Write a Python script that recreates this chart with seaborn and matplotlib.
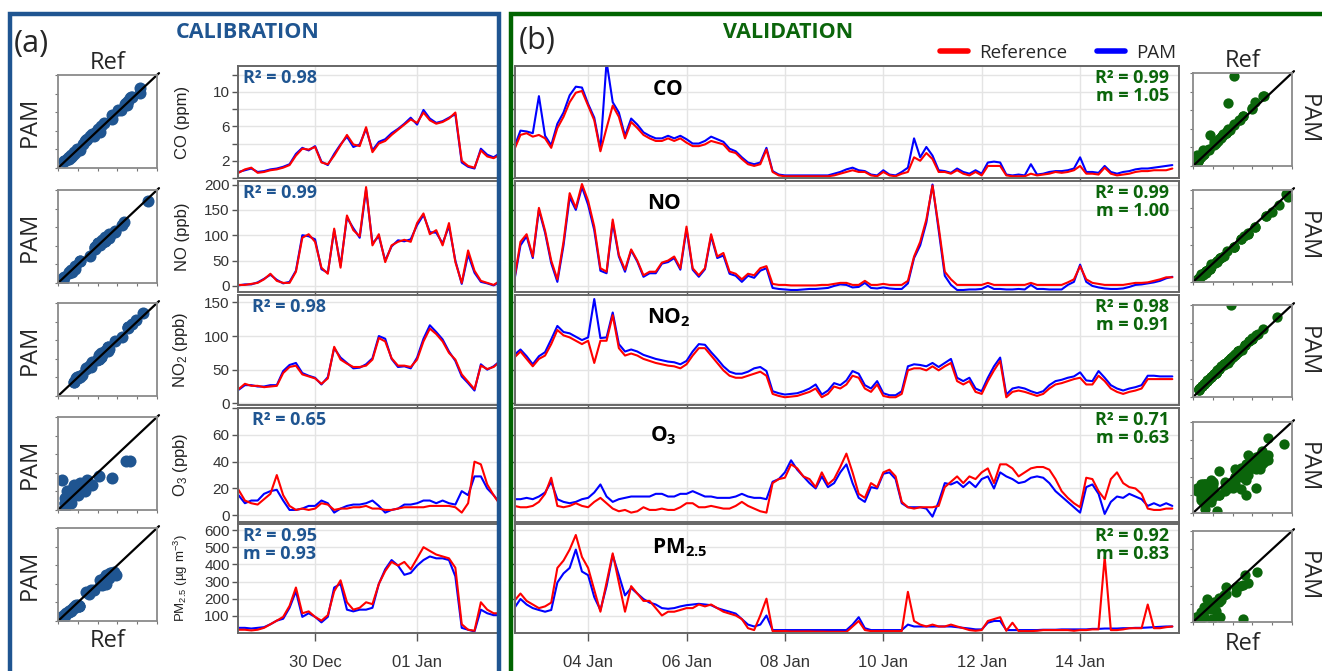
import numpy as np
import pandas as pd
import seaborn as sns
import matplotlib.pyplot as plt
from matplotlib.patches import Rectangle
from matplotlib.lines import Line2D

sns.set_theme(style="white")
plt.rcParams['font.family'] = ['Liberation Sans', 'DejaVu Sans']
plt.rcParams['mathtext.fontset'] = 'custom'
plt.rcParams['mathtext.rm'] = 'Liberation Sans'
plt.rcParams['mathtext.it'] = 'Liberation Sans:italic'
plt.rcParams['mathtext.bf'] = 'Open Sans:bold'

BLUE = '#1F5591'
GREEN = '#0B650B'

# ---------------- data (3 h steps) ----------------
cal_time = pd.date_range('2017-12-28 12:00', periods=42, freq='3h')
val_time = pd.date_range('2018-01-02 12:00', periods=108, freq='3h')

cal_co_ref = [0.6, 1.0, 1.2, 0.6, 0.7, 0.9, 1.0, 1.2, 1.5, 2.6, 3.4, 3.3, 3.6, 1.8, 1.6, 2.6, 3.8, 5.0, 3.9, 3.7, 5.9,
              3.0, 4.0, 4.3, 5.0, 5.6, 6.2, 6.8, 6.4, 7.6, 6.7, 6.3, 6.5, 6.9, 7.6, 2.0, 1.4, 1.2, 3.2, 2.5, 2.3, 2.7]
cal_co_pam = [0.7, 0.9, 1.1, 0.7, 0.8, 1.0, 1.1, 1.3, 1.6, 2.8, 3.5, 3.2, 3.7, 1.9, 1.5, 2.8, 3.9, 4.8, 3.6, 3.9, 5.7,
              3.2, 4.2, 4.5, 5.2, 5.7, 6.3, 7.0, 6.2, 7.9, 6.9, 6.4, 6.6, 7.0, 7.4, 1.8, 1.3, 1.1, 3.4, 2.7, 2.4, 2.9]
cal_no_ref = [2, 2, 4, 6, 13, 24, 10, 6, 6, 28, 95, 102, 87, 36, 24, 113, 36, 139, 110, 98, 195,
              80, 102, 47, 80, 87, 91, 87, 124, 143, 102, 110, 80, 124, 47, 6, 70, 30, 10, 6, 2, 10]
cal_no_pam = [1, 3, 3, 7, 14, 22, 12, 5, 8, 30, 100, 98, 92, 33, 26, 110, 40, 135, 114, 95, 190,
              84, 98, 50, 78, 90, 88, 92, 120, 140, 106, 105, 84, 118, 50, 4, 62, 26, 8, 5, 1, 8]
cal_no2_ref = [21, 29, 26, 26, 24, 25, 26, 45, 54, 56, 43, 40, 37, 29, 37, 84, 65, 59, 54, 54, 56,
               65, 97, 92, 67, 56, 56, 54, 65, 92, 111, 103, 92, 75, 65, 43, 32, 21, 56, 51, 54, 62]
cal_no2_pam = [20, 27, 27, 25, 25, 27, 27, 48, 57, 60, 45, 41, 38, 28, 39, 82, 68, 60, 52, 53, 58,
               67, 100, 96, 66, 54, 55, 52, 68, 96, 116, 106, 95, 77, 63, 40, 30, 19, 58, 50, 55, 63]
cal_o3_ref = [19, 11, 9, 8, 12, 16, 30, 15, 7, 4, 5, 4, 5, 9, 8, 4, 5, 5, 6, 6, 7,
              5, 5, 4, 4, 5, 6, 6, 6, 6, 7, 7, 7, 7, 6, 2, 9, 40, 38, 23, 15, 8]
cal_o3_pam = [15, 9, 11, 11, 16, 18, 19, 11, 4, 4, 5, 7, 7, 11, 9, 2, 5, 7, 8, 8, 9,
              11, 7, 2, 4, 5, 8, 8, 9, 11, 11, 9, 11, 9, 8, 18, 15, 29, 29, 20, 15, 9]
cal_pm_ref = [19, 19, 15, 19, 30, 51, 72, 94, 158, 265, 115, 126, 94, 72, 104, 243, 307, 179, 136, 147, 179,
              168, 286, 361, 414, 393, 414, 371, 435, 500, 478, 457, 446, 435, 380, 51, 19, 13, 179, 136, 115, 115]
cal_pm_pam = [30, 30, 26, 30, 34, 51, 72, 83, 147, 243, 94, 115, 94, 62, 94, 265, 286, 136, 126, 136, 136,
              147, 286, 371, 425, 393, 339, 350, 393, 425, 446, 435, 435, 425, 330, 30, 19, 9, 136, 115, 104, 104]

val_co_ref = [3.3, 5.0, 5.2, 4.8, 5.0, 4.6, 3.5, 5.8, 7.1, 8.8, 9.9, 10.1, 8.4, 6.7, 3.1, 5.8, 8.4, 7.1, 4.6, 6.5,
              5.8, 5.0, 4.6, 4.3, 4.3, 4.6, 4.3, 4.6, 4.1, 3.7, 3.7, 3.9, 4.3, 4.1, 3.9, 3.1, 2.9, 2.2, 1.6, 1.4,
              1.6, 3.3, 0.7, 0.3, 0.2, 0.2, 0.2, 0.2, 0.2, 0.2, 0.2, 0.2, 0.3, 0.5, 0.7, 0.9, 0.7, 0.7, 0.3, 0.2,
              0.7, 0.3, 0.2, 0.5, 0.7, 2.4, 2.0, 2.9, 2.2, 0.7, 0.7, 0.5, 0.9, 0.5, 0.3, 0.7, 0.3, 1.4, 1.4, 1.4,
              0.3, 0.2, 0.2, 0.2, 0.5, 0.3, 0.4, 0.5, 0.7, 0.6, 0.7, 0.9, 1.4, 0.5, 0.5, 0.4, 1.2, 0.5, 0.3, 0.4,
              0.5, 0.7, 0.8, 0.8, 0.9, 0.9, 0.9, 1.1]
val_co_pam = [3.6, 5.5, 5.4, 5.2, 9.5, 4.9, 3.8, 6.3, 7.6, 9.6, 10.6, 10.5, 8.6, 7.0, 3.3, 13.5, 8.8, 7.6, 4.9, 6.9,
              6.2, 5.3, 4.9, 4.6, 4.6, 4.9, 4.6, 4.9, 4.5, 4.0, 4.0, 4.3, 4.8, 4.5, 4.2, 3.4, 3.1, 2.4, 1.8, 1.6,
              1.8, 3.5, 0.8, 0.4, 0.3, 0.3, 0.3, 0.3, 0.3, 0.3, 0.3, 0.3, 0.5, 0.7, 1.0, 1.2, 0.9, 0.8, 0.4, 0.3,
              0.9, 0.4, 0.3, 0.7, 1.2, 4.6, 2.4, 3.6, 2.6, 0.9, 0.8, 0.6, 1.1, 0.7, 0.5, 0.9, 0.5, 1.8, 1.9, 1.8,
              0.4, 0.3, 0.4, 0.3, 1.6, 0.4, 0.5, 0.7, 0.8, 0.8, 0.9, 1.1, 2.4, 0.7, 0.7, 0.6, 1.4, 0.7, 0.5, 0.7,
              0.8, 1.0, 1.1, 1.1, 1.2, 1.3, 1.4, 1.5]
val_no_ref = [13, 87, 102, 58, 154, 109, 50, 13, 87, 183, 154, 201, 168, 117, 35, 28, 131, 61, 32, 72,
              50, 21, 28, 28, 46, 50, 58, 35, 117, 35, 21, 35, 102, 58, 65, 28, 24, 13, 24, 21,
              35, 39, 4, 2, 2, 1, 1, 1, 1, 1, 2, 2, 4, 6, 6, 2, 2, 10, 2, 2,
              4, 2, 2, 2, 10, 58, 87, 131, 198, 117, 28, 13, 2, 2, 2, 2, 2, 6, 2, 2,
              2, 2, 2, 2, 6, 2, 2, 2, 2, 2, 7, 13, 39, 13, 6, 4, 2, 2, 2, 2,
              4, 6, 6, 7, 10, 13, 17, 17]
val_no_pam = [10, 80, 98, 55, 150, 105, 45, 8, 80, 175, 150, 195, 160, 110, 30, 25, 125, 58, 28, 70,
              48, 18, 25, 25, 44, 47, 55, 32, 112, 32, 18, 33, 98, 55, 60, 24, 20, 8, 20, 16,
              30, 35, -4, -6, -7, -8, -8, -7, -6, -6, -5, -4, 0, 3, 2, -3, -2, 6, -4, -5,
              -3, -5, -6, -6, 5, 55, 80, 125, 200, 110, 20, 2, -8, -8, -7, -7, -6, 0, -6, -6,
              -7, -7, -6, -7, 2, -6, -6, -7, -7, -7, 2, 8, 42, 8, 0, -3, -5, -6, -6, -5,
              -2, 2, 3, 5, 7, 10, 15, 18]
val_no2_ref = [68, 77, 66, 55, 66, 71, 88, 109, 101, 98, 93, 88, 93, 60, 93, 93, 131, 82, 71, 74,
               71, 66, 63, 60, 58, 56, 55, 52, 58, 71, 82, 82, 71, 60, 49, 41, 38, 38, 41, 44,
               47, 41, 14, 11, 9, 10, 11, 14, 17, 22, 9, 14, 25, 22, 28, 41, 38, 22, 17, 28,
               11, 9, 9, 14, 49, 52, 52, 49, 55, 49, 55, 60, 33, 28, 33, 17, 14, 33, 49, 63,
               9, 17, 19, 17, 14, 11, 14, 22, 28, 30, 33, 36, 38, 28, 28, 41, 33, 22, 17, 14,
               17, 19, 22, 36, 36, 36, 36, 36]
val_no2_pam = [72, 80, 70, 58, 70, 76, 95, 115, 106, 104, 99, 94, 98, 155, 97, 98, 135, 88, 77, 80,
               77, 72, 69, 66, 64, 62, 61, 58, 63, 77, 88, 87, 76, 66, 55, 47, 44, 44, 47, 52,
               54, 48, 18, 15, 13, 14, 15, 18, 22, 28, 13, 19, 30, 27, 34, 48, 44, 27, 22, 33,
               15, 12, 12, 18, 55, 58, 57, 55, 60, 54, 60, 66, 38, 33, 38, 22, 18, 38, 55, 68,
               13, 22, 24, 22, 18, 15, 18, 27, 33, 35, 38, 40, 46, 34, 33, 48, 38, 27, 22, 19,
               22, 24, 27, 41, 41, 40, 40, 40]
val_o3_ref = [7, 6, 6, 7, 10, 16, 28, 7, 6, 7, 9, 7, 6, 10, 13, 9, 5, 3, 4, 2,
              3, 6, 4, 4, 5, 4, 4, 6, 9, 9, 6, 6, 7, 6, 5, 5, 7, 10, 7, 5,
              3, 2, 24, 27, 28, 38, 35, 29, 27, 21, 32, 23, 27, 36, 46, 32, 16, 13, 24, 21,
              32, 34, 29, 10, 6, 5, 6, 6, 6, 7, 21, 25, 29, 24, 29, 27, 32, 35, 24, 38,
              38, 35, 29, 32, 35, 36, 36, 34, 27, 18, 13, 9, 6, 28, 27, 18, 12, 27, 32, 24,
              21, 20, 16, 5, 4, 4, 5, 5]
val_o3_pam = [12, 12, 13, 12, 14, 17, 25, 12, 10, 9, 10, 12, 13, 17, 23, 14, 10, 12, 13, 14,
              14, 14, 14, 16, 16, 14, 14, 16, 16, 18, 16, 14, 14, 13, 13, 13, 14, 16, 14, 13,
              13, 12, 25, 27, 32, 41, 34, 29, 24, 20, 29, 21, 24, 32, 38, 24, 13, 10, 21, 20,
              31, 32, 27, 9, 6, 6, 6, 5, -1, 10, 24, 23, 25, 21, 25, 21, 27, 29, 20, 32,
              29, 27, 24, 25, 28, 29, 28, 24, 18, 14, 10, 6, 2, 21, 23, 16, 1, 10, 14, 13,
              16, 14, 12, 7, 9, 7, 9, 7]
val_pm_ref = [187, 230, 187, 166, 145, 155, 177, 379, 422, 486, 571, 443, 379, 251, 124, 294, 464, 294, 124, 273,
              230, 187, 187, 145, 102, 124, 124, 134, 145, 145, 166, 155, 166, 145, 124, 113, 102, 81, 28, 17,
              102, 200, 11, 11, 11, 9, 9, 9, 9, 8, 8, 7, 7, 7, 6, 38, 70, 17, 11, 11,
              11, 11, 11, 11, 240, 70, 49, 38, 49, 38, 38, 49, 38, 28, 17, 13, 17, 70, 81, 92,
              13, 60, 11, 11, 11, 13, 17, 17, 17, 17, 17, 13, 17, 17, 21, 21, 443, 17, 17, 21,
              28, 28, 28, 166, 28, 28, 34, 38]
val_pm_pam = [145, 198, 166, 145, 134, 124, 134, 294, 347, 379, 486, 358, 337, 209, 134, 273, 454, 337, 219, 262,
              230, 198, 177, 166, 145, 141, 145, 155, 162, 166, 170, 166, 162, 145, 134, 124, 113, 81, 49, 38,
              49, 102, 17, 17, 17, 17, 17, 17, 17, 17, 17, 17, 17, 17, 17, 49, 92, 28, 17, 17,
              17, 17, 17, 17, 49, 38, 38, 38, 38, 38, 38, 38, 34, 30, 26, 21, 21, 60, 70, 70,
              17, 17, 17, 17, 17, 17, 19, 19, 19, 21, 21, 21, 21, 21, 24, 24, 26, 26, 26, 28,
              28, 30, 30, 32, 34, 36, 38, 38]

cal_r2 = ['R² = 0.98', 'R² = 0.99', 'R² = 0.98', 'R² = 0.65', 'R² = 0.95\nm = 0.93']
val_r2 = ['R² = 0.99\nm = 1.05', 'R² = 0.99\nm = 1.00', 'R² = 0.98\nm = 0.91',
          'R² = 0.71\nm = 0.63', 'R² = 0.92\nm = 0.83']
species = [r'$\mathbf{CO}$', r'$\mathbf{NO}$', r'$\mathbf{NO_2}$', r'$\mathbf{O_3}$', r'$\mathbf{PM_{2.5}}$']
ylabels = ['CO (ppm)', 'NO (ppb)', 'NO$_2$ (ppb)', 'O$_3$ (ppb)', 'PM$_{2.5}$ (µg m$^{-3}$)']

cal_ref = [cal_co_ref, cal_no_ref, cal_no2_ref, cal_o3_ref, cal_pm_ref]
cal_pam = [cal_co_pam, cal_no_pam, cal_no2_pam, cal_o3_pam, cal_pm_pam]
val_ref = [val_co_ref, val_no_ref, val_no2_ref, val_o3_ref, val_pm_ref]
val_pam = [val_co_pam, val_no_pam, val_no2_pam, val_o3_pam, val_pm_pam]

ylims = [(0, 13), (-12, 207), (-2.5, 161), (-5, 80), (0, 635)]
yticks = [list(range(0, 13, 2)), [0, 50, 100, 150, 200], [0, 50, 100, 150],
          [0, 20, 40, 60, 80], [100, 200, 300, 400, 500, 600]]
ytlabels = [['', '2', '', '6', '', '10', ''], ['0', '50', '100', '150', '200'],
            ['0', '50', '100', '150'], ['0', '20', '40', '60', ''],
            ['100', '200', '300', '400', '500', '600']]
cal_lim = [9.2, 215, 130, 55, 850]
val_lim = [14, 210, 155, 50, 880]

# ---------------- layout ----------------
W, H = 1322, 671
fig = plt.figure(figsize=(W / 100, H / 100), dpi=100)


def box(l, t, r, b):
    return [l / W, 1 - b / H, (r - l) / W, (b - t) / H]


rows = [(66, 178), (181, 292), (295, 405), (408, 522), (524, 633)]
lsc_rows = [(75, 168), (190, 283), (303, 396), (417, 510), (528, 621)]
rsc_rows = [(73, 166), (190, 282), (305, 397), (422, 513), (531, 622)]
sp_pos = [(0.23, 0.79), (0.225, 0.80), (0.232, 0.79), (0.223, 0.76), (0.248, 0.78)]

cal_xt = [pd.Timestamp('2017-12-30'), pd.Timestamp('2018-01-01')]
val_xt = [pd.Timestamp('2018-01-%02d' % d) for d in range(4, 15, 2)]


def style_ts(ax, i, xt, xl, labels):
    ax.set_ylim(*ylims[i])
    ax.set_yticks(yticks[i])
    ax.set_yticklabels(ytlabels[i] if labels else [])
    ax.set_xticks(xt)
    ax.set_xlim(*xl)
    ax.set_xlabel('')
    ax.set_ylabel('')
    ax.grid(True, color='#e4e4e4', lw=1)
    ax.set_axisbelow(True)
    for s in ax.spines.values():
        s.set_color('#666666')
        s.set_linewidth(1.4)
    ax.tick_params(axis='both', length=4, width=1, color='#555555', labelsize=11,
                   labelcolor='#333333', pad=2, left=True, bottom=True)
    if i == 4:
        ax.set_xticklabels([t.strftime('%d %b') for t in xt])
        ax.tick_params(axis='x', labelsize=12, pad=10, length=6)
    else:
        ax.set_xticklabels([])


cal_xl = (pd.Timestamp('2017-12-28 11:45'), pd.Timestamp('2018-01-02 15:00'))
val_xl = (pd.Timestamp('2018-01-02 12:20'), pd.Timestamp('2018-01-16 00:15'))


def style_sc(ax, lim, color, ref, pam, size):
    sns.scatterplot(x=ref, y=pam, ax=ax, color=color, s=size, linewidth=0, alpha=1)
    ax.plot([0, lim * 1.02], [0, lim * 1.02], color='black', lw=1.6, clip_on=False)
    ax.set_xlim(0, lim)
    ax.set_ylim(0, lim)
    ax.set_xticks(np.linspace(0, lim, 6))
    ax.set_yticks(np.linspace(0, lim, 6))
    ax.set_xticklabels([])
    ax.set_yticklabels([])
    ax.set_xlabel('')
    ax.set_ylabel('')
    ax.tick_params(length=2, width=0.8, color='#777777', left=True, bottom=True)
    for s in ax.spines.values():
        s.set_color('#8a8a8a')
        s.set_linewidth(1.3)


for i in range(5):
    t, b = rows[i]
    # calibration time series
    ax = fig.add_axes(box(238, t, 500, b))
    sns.lineplot(x=cal_time, y=cal_pam[i], ax=ax, color='#0000FF', lw=1.5)
    sns.lineplot(x=cal_time, y=cal_ref[i], ax=ax, color='#FF0000', lw=1.5)
    style_ts(ax, i, cal_xt, cal_xl, True)
    ax.set_ylabel(ylabels[i], fontsize=9.5 if i == 4 else 12, color='#222222')
    ax.yaxis.set_label_coords(-0.185, 0.5)
    ax.text(0.02 if i in (0, 1, 4) else 0.055, 0.97, cal_r2[i], transform=ax.transAxes,
            ha='left', va='top', color=BLUE, fontsize=13, fontweight='bold',
            family='Open Sans', linespacing=1.0)

    # validation time series
    ax = fig.add_axes(box(515, t, 1179, b))
    sns.lineplot(x=val_time, y=val_pam[i], ax=ax, color='#0000FF', lw=1.5)
    sns.lineplot(x=val_time, y=val_ref[i], ax=ax, color='#FF0000', lw=1.5)
    style_ts(ax, i, val_xt, val_xl, False)
    ax.text(0.985, 0.97, val_r2[i], transform=ax.transAxes, ha='right', va='top',
            color=GREEN, fontsize=13, fontweight='bold', family='Open Sans', linespacing=1.0)
    ax.text(sp_pos[i][0], sp_pos[i][1], species[i], transform=ax.transAxes,
            ha='center', va='center', fontsize=15, color='black')

    # scatter thumbnails
    t2, b2 = lsc_rows[i]
    ax = fig.add_axes(box(58, t2, 157, b2))
    style_sc(ax, cal_lim[i], BLUE, cal_ref[i], cal_pam[i], 75)
    ax.set_ylabel('PAM', fontsize=17, family='Open Sans', labelpad=6)
    if i == 0:
        ax.set_title('Ref', fontsize=17, family='Open Sans', pad=3)
    if i == 4:
        ax.set_xlabel('Ref', fontsize=17, family='Open Sans', labelpad=0)

    t2, b2 = rsc_rows[i]
    ax = fig.add_axes(box(1193, t2, 1292, b2))
    style_sc(ax, val_lim[i], GREEN, val_ref[i], val_pam[i], 55)
    ax.yaxis.set_label_position('right')
    ax.set_ylabel('PAM', fontsize=17, family='Open Sans', rotation=270, labelpad=20)
    if i == 0:
        ax.set_title('Ref', fontsize=17, family='Open Sans', pad=4)
    if i == 4:
        ax.set_xlabel('Ref', fontsize=17, family='Open Sans', labelpad=2)

# panel frames and headings
fig.add_artist(Rectangle((10 / W, -0.05), (499 - 10) / W, 1.05 - 14 / H, transform=fig.transFigure,
                         fill=False, ec=BLUE, lw=3.2, zorder=10))
fig.add_artist(Rectangle((511 / W, -0.05), 1.1 - 511 / W, 1.05 - 14 / H, transform=fig.transFigure,
                         fill=False, ec='#006400', lw=3.2, zorder=10))
fig.text(14 / W, 1 - 44 / H, '(a)', fontsize=22, family='Open Sans', va='center', ha='left')
fig.text(519 / W, 1 - 41 / H, '(b)', fontsize=22, family='Open Sans', va='center', ha='left')
fig.text(248 / W, 1 - 32 / H, 'CALIBRATION', fontsize=15.5, family='Open Sans', fontweight='bold',
         color=BLUE, ha='center', va='center')
fig.text(788 / W, 1 - 32 / H, 'VALIDATION', fontsize=15.5, family='Open Sans', fontweight='bold',
         color=GREEN, ha='center', va='center')

handles = [Line2D([], [], color='#FF0000', lw=4), Line2D([], [], color='#0000FF', lw=4)]
fig.legend(handles, ['Reference', 'PAM'], loc='center', bbox_to_anchor=(1058 / W, 1 - 53 / H),
           ncol=2, frameon=False, prop={'family': 'Open Sans', 'size': 13.5},
           handlelength=1.5, columnspacing=1.6, handletextpad=0.6)

fig.savefig('out.png', dpi=100)
